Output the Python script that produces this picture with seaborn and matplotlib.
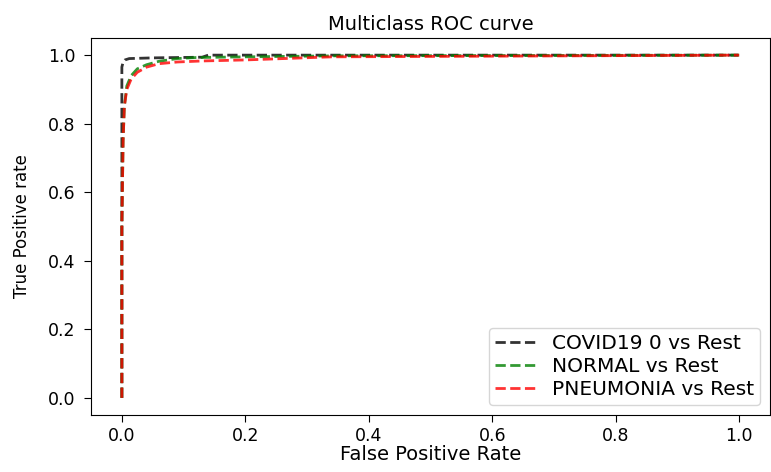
import pandas as pd
import matplotlib
matplotlib.use("Agg")
import matplotlib.pyplot as plt
import seaborn as sns

# ROC points
covid_fpr = [0.0, 0.0, 0.0, 0.002, 0.005, 0.012, 0.05, 0.13, 0.14, 0.5, 1.0]
covid_tpr = [0.0, 0.6, 0.965, 0.98, 0.986, 0.99, 0.992, 0.994, 1.0, 1.0, 1.0]

normal_fpr = [0.0, 0.0, 0.002, 0.004, 0.008, 0.015, 0.025, 0.04, 0.06, 0.09, 0.12, 0.2, 0.35, 1.0]
normal_tpr = [0.0, 0.5, 0.75, 0.85, 0.91, 0.94, 0.96, 0.972, 0.982, 0.99, 0.993, 0.995, 0.998, 1.0]

pneu_fpr = [0.0, 0.0, 0.002, 0.004, 0.008, 0.015, 0.025, 0.04, 0.06, 0.09, 0.13, 0.2, 0.34, 1.0]
pneu_tpr = [0.0, 0.5, 0.75, 0.85, 0.9, 0.93, 0.95, 0.965, 0.975, 0.98, 0.983, 0.986, 0.995, 1.0]

labels = ["COVID19 0 vs Rest", "NORMAL vs Rest", "PNEUMONIA vs Rest"]
colors = ["black", "green", "red"]

curves = [(covid_fpr, covid_tpr), (normal_fpr, normal_tpr), (pneu_fpr, pneu_tpr)]

plt.rcParams["font.family"] = ["DejaVu Sans"]
fig = plt.figure(figsize=(7.71, 4.72), dpi=100)
ax = fig.add_axes([91 / 771, 1 - 415 / 472, 679 / 771, 377 / 472])

for (fpr, tpr), lab, col in zip(curves, labels, colors):
    df = pd.DataFrame({"fpr": fpr, "tpr": tpr})
    sns.lineplot(data=df, x="fpr", y="tpr", ax=ax, sort=False, estimator=None,
                 color=col, linestyle="--", linewidth=2.0, alpha=0.8, label=lab)

ax.set_xlim(-0.05, 1.05)
ax.set_ylim(-0.05, 1.05)
ax.set_xticks([0.0, 0.2, 0.4, 0.6, 0.8, 1.0])
ax.set_yticks([0.0, 0.2, 0.4, 0.6, 0.8, 1.0])
ax.tick_params(labelsize=12.5, length=5)
ax.tick_params(axis="y", pad=6)
ax.set_title("Multiclass ROC curve", fontsize=14)
ax.set_xlabel("False Positive Rate", fontsize=14, labelpad=0)
ax.set_ylabel("True Positive rate", fontsize=12, labelpad=12)
ax.legend(loc="lower right", fontsize=14.5, handlelength=2.0,
          labelspacing=0.2, borderpad=0.3)

fig.savefig("out.png", dpi=100)
